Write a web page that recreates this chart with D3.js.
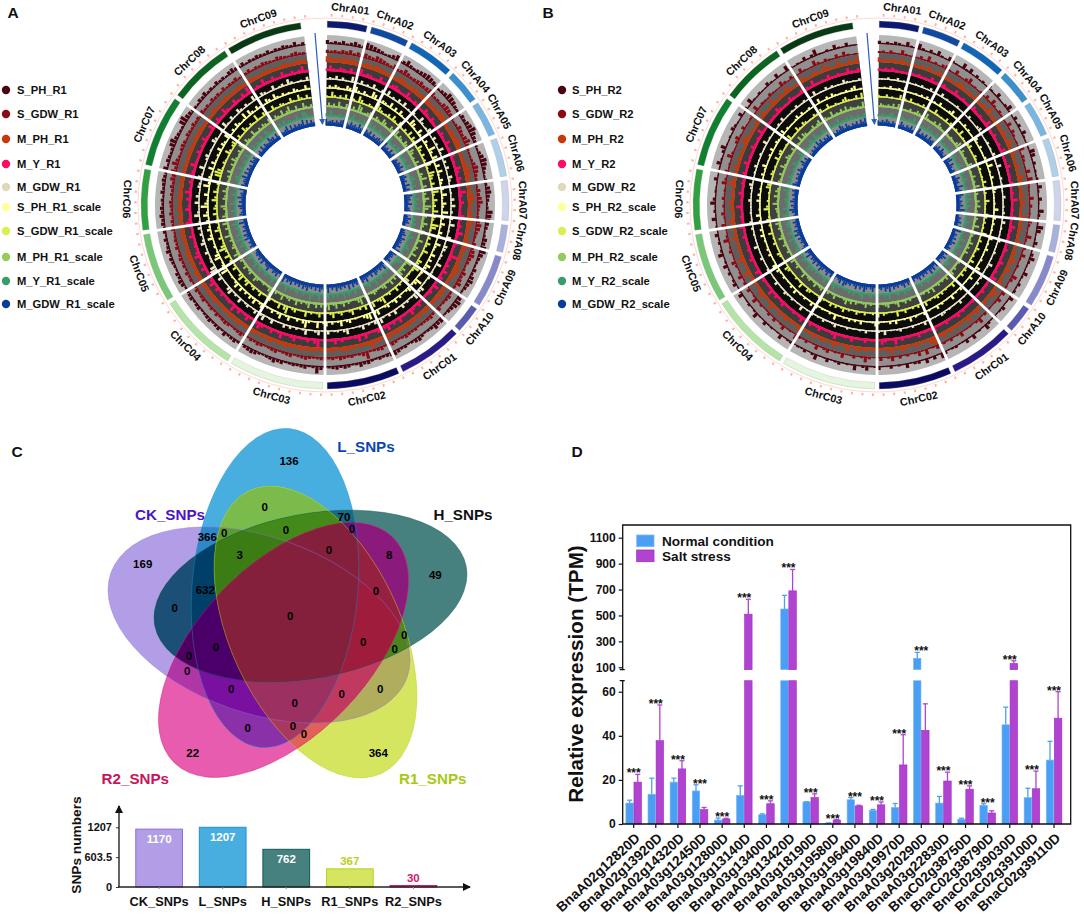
<!DOCTYPE html>
<html>
<head>
<meta charset="utf-8">
<title>SNP circos, venn and expression</title>
<script src="https://cdn.jsdelivr.net/npm/d3@7"></script>
<style>
body { margin: 0; background: #fff; }
svg { display: block; font-family: "Liberation Sans", Arial, sans-serif; font-weight: bold; }
</style>
</head>
<body>
<div id="chart"></div>
<script>
// chromosomes and where each one ends, degrees clockwise from the top
const chrNames = ["ChrA01","ChrA02","ChrA03","ChrA04","ChrA05","ChrA06","ChrA07","ChrA08","ChrA09","ChrA10","ChrC01","ChrC02","ChrC03","ChrC04","ChrC05","ChrC06","ChrC07","ChrC08","ChrC09"];
const chrEnds = [14,27.5,43.5,55.5,68,81.6,95.6,105.7,123.7,133.7,155.6,180,211.3,238.2,261.4,282,306,327.6,353];
const chrColors = ["#0b1a6e","#0f4aa0","#1066b4","#3a8fcc","#7ab6e0","#b0cfe8","#d0d4ea","#aab0dc","#8888cc","#5a5ab0","#2a1a88","#0a0a60","#e6f5de","#b4e4a8","#78c878","#30a040","#108030","#0c6420","#0a3a14"];

const trackColors = ["#4a0510","#8b0a14","#c8380a","#ff0a64","#efe8c4","#ffff99","#dcee50","#94cc5c","#3a9c6a","#0a3c9c"];
const trackBands = ["#b6b6b6","#909090","#5e5e5e","#3c3c3c","#0c0c0c","#0c0c0c","#0c0c0c","#404040","#6c6c6c","#8a8a8a"];
const trackFloor = [1.2,1.2,2,2.2,1.2,1.3,1.4,1.8,1.8,3];

const namesR1 = ["S_PH_R1","S_GDW_R1","M_PH_R1","M_Y_R1","M_GDW_R1","S_PH_R1_scale","S_GDW_R1_scale","M_PH_R1_scale","M_Y_R1_scale","M_GDW_R1_scale"];
const namesR2 = ["S_PH_R2","S_GDW_R2","M_PH_R2","M_Y_R2","M_GDW_R2","S_PH_R2_scale","S_GDW_R2_scale","M_PH_R2_scale","M_Y_R2_scale","M_GDW_R2_scale"];

// track heights per 1.5 degree bin, read by eye, 0-9
const digits = s => Array.from(s, Number);
const S_PH_R1 = digits("524352464387654235724743456765324587643254679754324687532436754238765423657864325367542368754236574324653243565434235463245354325932543432546432356542354362543543254354325645234536435243546453425345436254347854338965432546342534256435243543524354362453425");
const S_GDW_R1 = digits("434354635465476543634753456456634367654236546853223576432254674323576432546754236457323543254354332434532453254329532434524354323543254325432453423543245435243254353243524354253432534253452435365748532454254353425342534252435243524354325432453324324");
const M_PH_R1 = digits("654547563536456543534653446345743546653425457632324576532436753245864324765324357643243545343453424354354363254843324354325343253435243534254332453425435243325434253435243545324354243525435434253524332534253453243253243524354325432453423543254325342");
const M_Y_R1 = digits("162043050172430061204530172043016305217042061305120740521083052016304172052019304160521704206150370216041730520160730214062130950412063017205104730162051803204150730216051740320610473016205172041630721050316201740520730162051840317205106204137020516");
const M_GDW_R1 = digits("031504107205130620417030516020410730261050307201405106307120516030417020610540320710253010640720315016040270513062010740320510630172030415010620730510420603175010620970320510630415020730160510430620710350210640130720510630410720530160240730120540361");
const S_PH_scale_R1 = digits("042530164073052086024317050620408620731052094073160720530417206308140620531073206150740320952063014062053107408640120530720416308103950410620730512063072504160730210954208620310730520417309520610830421706203160530720416302807305201640730412053016207304");
const S_GDW_scale_R1 = digits("207304160730851042096302517306204170630174051307208640510830624170530972014063072106408302175030610420953071060420730152073041620307110530960712043016205307408510620417039620510730421605307406203108972042017304620510730420810531062043016207305120413");
const M_PH_scale_R1 = digits("051407206305197024610530751064071530642075130627105381062041730961052073064017205307104820637105172064013520730962014062073184051620730417205307214096203104710530620413720530418205173062047105306207314062051730251840630172041530620531704820610730421507");
const M_Y_scale_R1 = digits("307210413062701406307162053104172051630714520738104620510730624170520415307206310571043086201730410530720641052071360720415062017304820510630417203610730251064073016205207418062051730420610730162053104721062053071402605317208410620517043016208730214062");
const M_GDW_scale_R1 = digits("634525367453746384526471635647183527364153647258463517264385637145263746158346274536182745361728463571623847536472815364725183647261538472635174628351746238541726354172635184726351827364157263845172635481726351746283517264385617264358172635481726354172");

const S_PH_R2 = digits("403143162073041620531072604130520610372051406205176040213062051073018601520473106204130610520413702160510320470516043061204105216307120420510730412032061021501720310620530416207303150206031740210503162047102053106041720310520610730215048103062051073102");
const S_GDW_R2 = digits("230410620314071304520610471203051730420160530217043016073210604120530172041620310740215062015307302106204130520716203041620510372041061205306104137021620504103172050416203610420730160251304120630512073104620510240713204210630410620173042051620140730");
const M_PH_R2 = digits("513041620730415026043105720416305180426305217406310520740315062017405130620417306120530751043062071304150620971305104620730162041530720161043052017403260510730264105308201740310620537104260310740526041302760410530620173051740206301530741062051730412");
const M_Y_R2 = digits("103042010620301050204101620301052030170204103061020510204103071020510630201040105203071020410620103052014010630205102040710360120401050201730105204016203010520417010320601052030104106203017020510320401602105203071040120630105201403071020510310620410302");
const M_GDW_R2 = digits("010301402010203014010502010301204010350101302040106010302010410203015020104010301062010304010201050102034010205010301042010603010402010301052014020301060103024010501023010401060102030410201040103501020401030106020140305010204013020601040301052010304201");
const S_PH_scale_R2 = digits("102040130601020304012050103602010403010520401030170204010530102061040302015020401031060205010340206010305102040130602015040103620105030402017030120405103021604010302506010403102050401306020150402013040260103050142016030102504013020610405201030460201503");
const S_GDW_scale_R2 = digits("310402016030510204131062010504013070210350104206031021504031062010540302071040152030610240510306102041530206014031052070102406031040251031620405102630104501720301046020135010402061030520174031020650104302016045012037010620530104205016203104620150730410");
const M_PH_scale_R2 = digits("042031506201040253107201406310520310471052031064021503172041052603014207105302614051027301406205130420715032601041520730164205103062014052730106204105316204307210520631041052073014260510340720615301420510730264105032071640125036104207130516042031705204");
const M_Y_scale_R2 = digits("203104620153014270510306241052071304160253014702610530142061730520410263105301720641052301640715203104620510730426105301724016205301740261503102074150630214052701360210540317026104530172061045023710640520130742016305102640731052016042703150620410537160");
const M_GDW_scale_R2 = digits("425364153627415362748153627451836274153682741536274518362741536284715362748153627415386274153627481536274158362741536284715362741583627415368274153627415836274518362741536284715362741583627415362874153627415836274153628471536274153862741536274815362");

const tracksR1 = [S_PH_R1,S_GDW_R1,M_PH_R1,M_Y_R1,M_GDW_R1,S_PH_scale_R1,S_GDW_scale_R1,M_PH_scale_R1,M_Y_scale_R1,M_GDW_scale_R1];
const tracksR2 = [S_PH_R2,S_GDW_R2,M_PH_R2,M_Y_R2,M_GDW_R2,S_PH_scale_R2,S_GDW_scale_R2,M_PH_scale_R2,M_Y_scale_R2,M_GDW_scale_R2];

// panel C
const snpSets = ["CK_SNPs","L_SNPs","H_SNPs","R1_SNPs","R2_SNPs"];
const snpCounts = [1170,1207,762,367,30];
const snpFill = ["#b19ee6","#48aee0","#46807f","#d5e55f","#e85cb0"];
const snpStroke = ["#8a6ee0","#1f8fd8","#0f5a5a","#b8d020","#d0186c"];

// panel C venn: sets are P(CK) L H Y(R1) R(R2)
const vennColors = [
  ["P","#b19ee6"],["L","#48aee0"],["H","#46807f"],["Y","#d5e55f"],["R","#e85cb0"],
  ["PL","#2f86c8"],["PH","#1b4f75"],["PY","#b0ae5c"],["PR","#b035a5"],["LH","#1c6a80"],
  ["LY","#7bbb4b"],["LR","#8a30a8"],["HY","#4c8a1c"],["HR","#8a1a7c"],["YR","#e0605a"],
  ["PLH","#003f68"],["PLY","#5d9a30"],["PLR","#7a10a0"],["PHY","#4c8420"],["PHR","#4e0060"],
  ["PYR","#c03a60"],["LHY","#438a1a"],["LHR","#5a1a78"],["LYR","#a8385f"],["HYR","#96203f"],
  ["PLHY","#3c7c14"],["PLHR","#4a0068"],["PLYR","#9c3060"],["PHYR","#a01c3c"],["LHYR","#85203c"],
  ["PLHYR","#85203c"]
];
const vennShapes = [
  {key:"P",cx:259,cy:625,a:157,b:88,rot:19.4,stroke:"#8a6ee0"},
  {key:"L",cx:275,cy:588,a:160,b:83,rot:-85,stroke:"#1f8fc8"},
  {key:"H",cx:310.5,cy:596,a:158.5,b:82,rot:-10.8,stroke:"#0f5a5a"},
  {key:"Y",cx:315.5,cy:632,a:156,b:85,rot:65,stroke:"#b8d020"},
  {key:"R",cx:283.5,cy:650,a:157,b:85,rot:-46,stroke:"#d0186c"}
];
const vennCounts = ["136","0","70","366","0","0","0","3","0","8","169","49","632","0","0","0","0","0","0","0","0","0","0","0","0","0","0","0","0","22","364"];
const vennCountX = [289,264.7,344,207.3,224.3,286,352,239.7,329,389.3,142.7,435.3,205.3,376,174.7,290.3,404.3,216,363.3,394.7,189,187.3,231.3,380.3,341.7,294.7,293,247.7,304,192.7,378.3];
const vennCountY = [461,506.7,516.7,536.7,532.7,530.3,528.7,555.3,550,555.3,564.3,574.7,590.3,590.7,607.7,616.3,635.3,646.7,642.3,649,656,670.7,689.3,689.3,693.7,702.7,726,728.3,734,753.3,753.3];

// panel D
const genes = ["BnaA02g12820D","BnaA02g13920D","BnaA02g14320D","BnaA03g12450D","BnaA03g12800D","BnaA03g13140D","BnaA03g13400D","BnaA03g13420D","BnaA03g18190D","BnaA03g19580D","BnaA03g19640D","BnaA03g19840D","BnaA03g19970D","BnaA03g20290D","BnaA03g22830D","BnaC02g38750D","BnaC02g38790D","BnaC02g39030D","BnaC02g39100D","BnaC02g39110D"];
const normalMean = [9.5,13.5,19,15,1.8,13,4.2,550,10,0.4,11,6.2,7.5,170,9.5,2.2,8.5,45,12,29];
const normalTop = [10.8,20.8,20.8,17.8,2.7,17.3,4.6,655,10.1,0.5,12,6.6,9.3,215,12.5,2.6,9.2,53,16.2,37.5];
const saltMean = [19,37.8,25,6.5,2.3,510,9.2,690,12,1.8,8.2,8.7,26.8,42.5,19.5,15.8,5,130,16,48];
const saltTop = [22.5,54,28.7,7.5,2.6,625,10.5,855,13.7,2,8.5,10,40.5,54.5,23.5,17.3,6,150,24,60];
const lowTicks = [0,20,40,60];
const highTicks = [100,300,500,700,900,1100];

const svg = d3.select("#chart").append("svg").attr("width", 1084).attr("height", 922);

function panelLabel(text, x, y) {
  svg.append("text").attr("x", x).attr("y", y).attr("font-size", 15.5).attr("text-anchor", "middle").attr("fill", "#111").text(text);
}
panelLabel("A", 13, 18); panelLabel("B", 548, 18); panelLabel("C", 17, 457); panelLabel("D", 577, 457);

const rad = d => d * Math.PI / 180;

function circos(cx, cy, tracks, names, dotX, textX) {
  const g = svg.append("g").attr("transform", `translate(${cx},${cy})`);
  const arc = d3.arc();
  const h = d3.scalePow().exponent(1.4).domain([0, 9]).range([0, 6.5]);
  const baseR = [161, 152, 143, 134, 125.5, 116.5, 107.5, 98, 88.5, 79.5];
  const startA = 0.7, endA = chrEnds[chrEnds.length - 1];

  // bands
  g.selectAll("path.band").data(trackBands).join("path").attr("class", "band")
    .attr("fill", d => d)
    .attr("d", (d, i) => arc({innerRadius: baseR[i], outerRadius: i ? baseR[i - 1] : 170, startAngle: rad(startA), endAngle: rad(endA)}));

  // continuous foot of each track
  g.selectAll("path.floor").data(trackFloor).join("path").attr("class", "floor")
    .attr("fill", (d, i) => trackColors[i])
    .attr("d", (d, i) => arc({innerRadius: baseR[i], outerRadius: baseR[i] + d, startAngle: rad(startA), endAngle: rad(endA)}));

  // histogram bars of each track
  tracks.forEach((vals, t) => {
    const a = d3.scaleBand(d3.range(vals.length), [0, 360]).padding(0.2);
    g.append("g").selectAll("path").data(vals.map((v, i) => ({v, i})).filter(d => {
        const m = a(d.i) + a.bandwidth() / 2;
        return m > startA && m < endA;
      })).join("path")
      .attr("fill", trackColors[t])
      .attr("d", d => arc({innerRadius: baseR[t], outerRadius: baseR[t] + trackFloor[t] + h(d.v), startAngle: rad(a(d.i)), endAngle: rad(a(d.i) + a.bandwidth())}));
  });

  // white gaps between the chromosomes
  g.selectAll("line.spoke").data(chrEnds.slice(0, -1)).join("line").attr("class", "spoke")
    .attr("x1", d => 76 * Math.sin(rad(d))).attr("y1", d => -76 * Math.cos(rad(d)))
    .attr("x2", d => 172 * Math.sin(rad(d))).attr("y2", d => -172 * Math.cos(rad(d)))
    .attr("stroke", "#fff").attr("stroke-width", 2.8);

  // ideogram
  const starts = chrEnds.map((d, i) => i ? chrEnds[i - 1] : startA);
  g.selectAll("path.chr").data(chrNames).join("path").attr("class", "chr")
    .attr("fill", (d, i) => chrColors[i]).attr("stroke", "#999").attr("stroke-width", 0.25)
    .attr("d", (d, i) => arc({innerRadius: 177.5, outerRadius: 184, startAngle: rad(starts[i] + (i ? 0.7 : 0)), endAngle: rad(chrEnds[i] - 0.7)}));

  // scale ring outside the ideogram
  g.append("circle").attr("r", 187).attr("fill", "none").attr("stroke", "#ffc8bc").attr("stroke-width", 0.7);
  g.selectAll("rect.tick").data(d3.range(2, 356, 3.2)).join("rect").attr("class", "tick")
    .attr("x", -1).attr("y", -191).attr("width", 2).attr("height", 2.6)
    .attr("fill", "#ffb4a4")
    .attr("transform", d => `rotate(${d})`);

  // chromosome names
  g.selectAll("text.chr").data(chrNames).join("text").attr("class", "chr")
    .attr("font-size", 10.8).attr("text-anchor", "middle").attr("dy", "0.35em").attr("fill", "#111")
    .attr("transform", (d, i) => {
      const m = (starts[i] + chrEnds[i]) / 2;
      const flip = m > 110 && m < 285;
      return `rotate(${m}) translate(0,-198) rotate(${flip ? 180 : 0})`;
    })
    .text(d => d);

  // start arrow
  const arrowId = "arr" + cx;
  const defs = svg.append("defs");
  defs.append("marker").attr("id", arrowId).attr("viewBox", "0 0 6 6").attr("refX", 5).attr("refY", 3)
    .attr("markerWidth", 5).attr("markerHeight", 5).attr("orient", "auto")
    .append("path").attr("d", "M0,0L6,3L0,6Z").attr("fill", "#2b5bc0");
  g.append("line").attr("x1", -10).attr("y1", -172).attr("x2", -2.5).attr("y2", -81)
    .attr("stroke", "#2b5bc0").attr("stroke-width", 1.2).attr("marker-end", `url(#${arrowId})`);

  // legend
  const legendY = [90,114,139,164,187,207,231,257,281,304];
  const legend = svg.append("g");
  legend.selectAll("circle").data(names).join("circle")
    .attr("cx", dotX).attr("cy", (d, i) => legendY[i]).attr("r", 4.2)
    .attr("fill", (d, i) => i === 4 ? "#e0d8b8" : trackColors[i]);
  legend.selectAll("text").data(names).join("text")
    .attr("x", textX).attr("y", (d, i) => legendY[i]).attr("dy", "0.35em")
    .attr("font-size", 11.2).attr("fill", "#111").text(d => d);
}

circos(325, 205, tracksR1, namesR1, 6, 17);
circos(877, 205, tracksR2, namesR2, 562, 572);

// ---- panel C venn, each region painted on its own
const vennG = svg.append("g");
const vennDefs = svg.append("defs");
const shapeOf = k => vennShapes.find(s => s.key === k);
const placeEllipse = (sel, s) => sel.attr("cx", s.cx).attr("cy", s.cy).attr("rx", s.a).attr("ry", s.b)
  .attr("transform", `rotate(${s.rot} ${s.cx} ${s.cy})`);
vennShapes.forEach(s => {
  placeEllipse(vennDefs.append("clipPath").attr("id", "clip" + s.key).append("ellipse"), s);
});
vennColors.forEach(([keys, color]) => {
  let parent = vennG;
  const list = keys.split("");
  list.slice(0, -1).forEach(k => { parent = parent.append("g").attr("clip-path", `url(#clip${k})`); });
  placeEllipse(parent.append("ellipse"), shapeOf(list[list.length - 1])).attr("fill", color);
});
vennShapes.forEach(s => {
  placeEllipse(vennG.append("ellipse"), s).attr("fill", "none").attr("stroke", s.stroke).attr("stroke-width", 0.8).attr("stroke-opacity", 0.5);
});
vennG.selectAll("text").data(vennCounts).join("text")
  .attr("x", (d, i) => vennCountX[i]).attr("y", (d, i) => vennCountY[i])
  .attr("text-anchor", "middle").attr("dy", "0.35em").attr("font-size", 11.5).attr("fill", "#000").text(d => d);

const vennTitles = ["CK_SNPs","L_SNPs","H_SNPs","R1_SNPs","R2_SNPs"];
const vennTitleColor = ["#4a14c8","#0a46b4","#111","#a8c814","#c8145a"];
const vennTitleX = [170,366,463,432.7,135.3];
const vennTitleY = [514.3,447,514.3,778.3,778.3];
svg.selectAll("text.venntitle").data(vennTitles).join("text").attr("class", "venntitle")
  .attr("x", (d, i) => vennTitleX[i]).attr("y", (d, i) => vennTitleY[i]).attr("dy", "0.35em")
  .attr("text-anchor", "middle").attr("font-size", 15.2).attr("fill", (d, i) => vennTitleColor[i]).text(d => d);

// ---- panel C bars
const cx0 = d3.scaleBand(snpSets, [127.5, 445]).paddingInner(0.265).paddingOuter(0.13);
const cy0 = d3.scaleLinear([0, 1207], [887, 827.3]);
svg.append("defs").append("marker").attr("id", "barArrow").attr("viewBox", "0 0 8 8").attr("refX", 7).attr("refY", 4)
  .attr("markerWidth", 8).attr("markerHeight", 8).attr("markerUnits", "userSpaceOnUse").attr("orient", "auto")
  .append("path").attr("d", "M0,0L8,4L0,8Z").attr("fill", "#111");
svg.selectAll("rect.snp").data(snpCounts).join("rect").attr("class", "snp")
  .attr("x", (d, i) => cx0(snpSets[i])).attr("width", cx0.bandwidth())
  .attr("y", d => cy0(d)).attr("height", d => cy0(0) - cy0(d))
  .attr("fill", (d, i) => snpFill[i]).attr("stroke", (d, i) => snpStroke[i]).attr("stroke-width", 1);
svg.selectAll("text.snpv").data(snpCounts).join("text").attr("class", "snpv")
  .attr("x", (d, i) => cx0(snpSets[i]) + cx0.bandwidth() / 2)
  .attr("y", d => d > 500 ? cy0(d) + 14 : cy0(d) - 4)
  .attr("text-anchor", "middle").attr("font-size", 11.5)
  .attr("fill", (d, i) => i < 3 ? "#fff" : snpStroke[i]).text(d => d);

const cyAxis = d3.axisLeft(cy0).tickValues([0, 603.5, 1207]).tickSize(3).tickFormat(d => d);
const cyG = svg.append("g").attr("transform", "translate(119,0)").call(cyAxis);
cyG.select(".domain").remove();
cyG.selectAll("text").attr("font-size", 11).attr("fill", "#111").attr("font-family", "inherit").attr("dx", "-1");
cyG.selectAll("line").attr("stroke", "#333");
svg.append("line").attr("x1", 119).attr("y1", 887).attr("x2", 119).attr("y2", 806).attr("stroke", "#222").attr("stroke-width", 1.4).attr("marker-end", "url(#barArrow)");
svg.append("line").attr("x1", 118).attr("y1", 887).attr("x2", 470).attr("y2", 887).attr("stroke", "#222").attr("stroke-width", 1.4).attr("marker-end", "url(#barArrow)");
const cxAxis = d3.axisBottom(cx0).tickSize(2);
const cxG = svg.append("g").attr("transform", "translate(0,887)").call(cxAxis);
cxG.select(".domain").remove();
cxG.selectAll("line").attr("stroke", "#888");
cxG.selectAll("text").attr("font-size", 12.8).attr("fill", "#111").attr("font-family", "inherit").attr("y", 10);
svg.append("text").attr("transform", "translate(81,845) rotate(-90)").attr("text-anchor", "middle")
  .attr("font-size", 13.7).attr("fill", "#111").text("SNPs numbers");

// ---- panel D
const dLeft = 622.7, dRight = 1070.7, dTop = 525, dBottom = 824;
const low = d3.scaleLinear([0, 65], [dBottom, 680.7]);
const high = d3.scaleLinear([100, 1100], [667.3, 537.7]);
const highBase = 669.7;
const dx = d3.scaleBand(genes, [622.6, 1065.1]).padding(0);
const barW = 7.5;
const series = [
  {name: "Normal condition", mean: normalMean, top: normalTop, fill: "#4a9ff5", stroke: "#7ab8f8", off: -barW - 0.3},
  {name: "Salt stress", mean: saltMean, top: saltTop, fill: "#b044d0", stroke: "#a02cc4", off: 0.3}
];
const yOf = v => v <= 65 ? low(v) : high(v);

series.forEach(s => {
  const g = svg.append("g");
  const xOf = i => dx(genes[i]) + dx.bandwidth() / 2 + s.off;
  g.selectAll("rect.low").data(s.mean).join("rect").attr("class", "low")
    .attr("x", (d, i) => xOf(i)).attr("width", barW)
    .attr("y", d => low(Math.min(d, 65))).attr("height", d => dBottom - low(Math.min(d, 65)))
    .attr("fill", s.fill).attr("stroke", s.stroke).attr("stroke-width", 0.6);
  g.selectAll("rect.high").data(s.mean.map((d, i) => ({d, i})).filter(e => e.d > 65)).join("rect").attr("class", "high")
    .attr("x", e => xOf(e.i)).attr("width", barW)
    .attr("y", e => high(e.d)).attr("height", e => highBase - high(e.d))
    .attr("fill", s.fill).attr("stroke", s.stroke).attr("stroke-width", 0.6);
  g.selectAll("line.stem").data(s.top).join("line").attr("class", "stem")
    .attr("x1", (d, i) => xOf(i) + barW / 2).attr("x2", (d, i) => xOf(i) + barW / 2)
    .attr("y1", (d, i) => yOf(s.mean[i])).attr("y2", d => yOf(d))
    .attr("stroke", s.fill).attr("stroke-width", 1.3);
  g.selectAll("line.cap").data(s.top).join("line").attr("class", "cap")
    .attr("x1", (d, i) => xOf(i) + barW / 2 - 2.5).attr("x2", (d, i) => xOf(i) + barW / 2 + 2.5)
    .attr("y1", d => yOf(d)).attr("y2", d => yOf(d))
    .attr("stroke", s.fill).attr("stroke-width", 1.3);
});

// significance stars
svg.selectAll("text.star").data(genes).join("text").attr("class", "star")
  .attr("x", d => dx(d) + dx.bandwidth() / 2)
  .attr("y", (d, i) => Math.min(yOf(normalTop[i]), yOf(saltTop[i])) + 3)
  .attr("text-anchor", "middle").attr("font-size", 12).attr("fill", "#111").text("***");

// frame, the left side stops at the axis break
svg.append("path").attr("fill", "none").attr("stroke", "#111").attr("stroke-width", 1.3)
  .attr("d", d3.line()([[dLeft, 669.7], [dLeft, dTop], [dRight, dTop], [dRight, dBottom], [dLeft, dBottom], [dLeft, 680.7]]));

const dLowAxis = svg.append("g").attr("transform", `translate(${dLeft},0)`).call(d3.axisLeft(low).tickValues(lowTicks).tickSize(4));
const dHighAxis = svg.append("g").attr("transform", `translate(${dLeft},0)`).call(d3.axisLeft(high).tickValues(highTicks).tickSize(4).tickFormat(d => d));
[dLowAxis, dHighAxis].forEach(a => {
  a.select(".domain").remove();
  a.selectAll("line").attr("stroke", "#111").attr("stroke-width", 1.2);
  a.selectAll("text").attr("font-size", 12).attr("fill", "#111").attr("font-family", "inherit");
});
// axis break marks
svg.append("path").attr("stroke", "#111").attr("stroke-width", 1.2).attr("fill", "none")
  .attr("d", d3.line()([[dLeft - 3, 669.7], [dLeft + 2, 669.7]]) + d3.line()([[dLeft - 3, 680.7], [dLeft + 2, 680.7]]));

const dxAxis = svg.append("g").attr("transform", `translate(0,${dBottom})`).call(d3.axisBottom(dx).tickSize(4));
dxAxis.select(".domain").remove();
dxAxis.selectAll("line").attr("stroke", "#111").attr("stroke-width", 1.2);
dxAxis.selectAll("text").attr("font-size", 13.8).attr("fill", "#111").attr("font-family", "inherit")
  .attr("text-anchor", "end").attr("dy", 0).attr("x", -5).attr("y", 16)
  .attr("transform", "rotate(-43)");

svg.append("text").attr("transform", "translate(583,674) rotate(-90)").attr("text-anchor", "middle")
  .attr("font-size", 20.7).attr("fill", "#111").text("Relative expression (TPM)");

const legendD = svg.append("g");
legendD.selectAll("rect").data(series).join("rect")
  .attr("x", 636.7).attr("y", (d, i) => 535 + i * 15).attr("width", 17.3).attr("height", 11.7)
  .attr("fill", d => d.fill).attr("stroke", d => d.stroke).attr("stroke-width", 0.8);
legendD.selectAll("text").data(series).join("text")
  .attr("x", 662).attr("y", (d, i) => 541 + i * 15).attr("dy", "0.35em")
  .attr("font-size", 13.6).attr("fill", "#111").text(d => d.name);
</script>
</body>
</html>
